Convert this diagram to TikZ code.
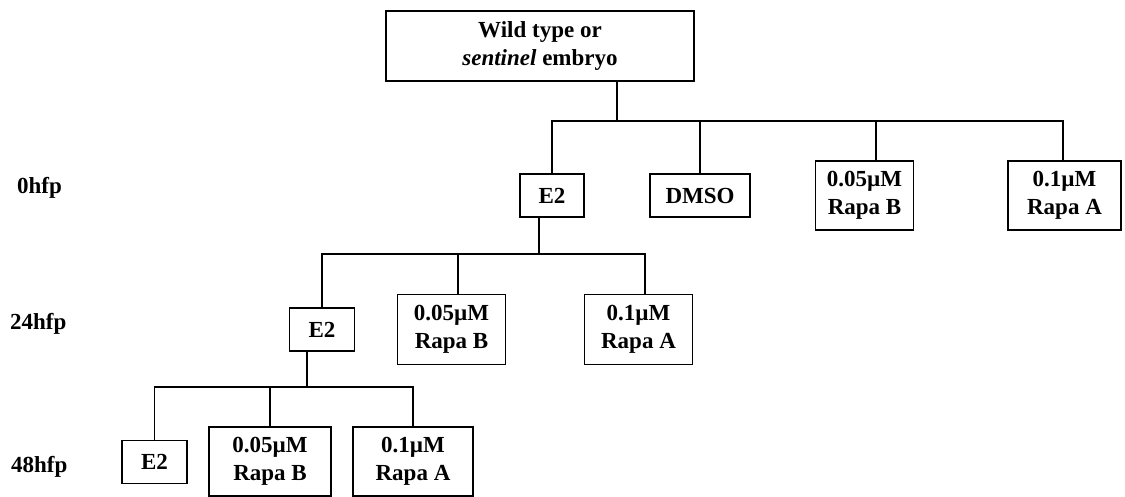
\documentclass[tikz,border=0pt]{standalone}
\usepackage{fontspec}
\setmainfont{Liberation Serif}
\begin{document}
\begin{tikzpicture}[x=1pt,y=-1pt,
  box/.style={draw,line width=1.5pt,inner sep=0pt,align=center,font=\fontsize{23}{28}\selectfont\bfseries},
  lbl/.style={anchor=base west,inner sep=0pt,font=\fontsize{23}{28}\selectfont\bfseries},
  link/.style={line width=1.5pt}]
\useasboundingbox (0,0) rectangle (1125,497);
% nodes
\node[box,minimum width=308pt,minimum height=70pt] (top) at (540,46) {Wild type or\\\textit{sentinel} embryo};
\node[box,minimum width=64pt,minimum height=43pt] (E2a) at (552,195.5) {E2};
\node[box,minimum width=100pt,minimum height=43pt] (DMSO) at (700,195.5) {DMSO};
\node[box,minimum width=98pt,minimum height=69pt] (RBa) at (864.5,195.5) {0.05µM\\Rapa B};
\node[box,minimum width=113pt,minimum height=69pt] (RAa) at (1064.5,195.5) {0.1µM\\Rapa A};
\node[box,minimum width=65pt,minimum height=43pt] (E2b) at (322,329.5) {E2};
\node[box,minimum width=108pt,minimum height=70pt] (RBb) at (451.5,329.5) {0.05µM\\Rapa B};
\node[box,minimum width=108pt,minimum height=70pt] (RAb) at (638.5,329.5) {0.1µM\\Rapa A};
\node[box,minimum width=65pt,minimum height=43pt] (E2c) at (154.5,462) {E2};
\node[box,minimum width=122pt,minimum height=69pt] (RBc) at (270,461.5) {0.05µM\\Rapa B};
\node[box,minimum width=120pt,minimum height=69pt] (RAc) at (413,461.5) {0.1µM\\Rapa A};
% time labels
\node[lbl] (t0) at (17,194) {0hfp};
\node[lbl] (t24) at (10,330) {24hfp};
\node[lbl] (t48) at (11,472) {48hfp};
% junctions
\coordinate (j1) at (617,121);
\coordinate (j2) at (539,254);
\coordinate (j3) at (307,387);
% level 1
\draw[link] (top.south -| j1) -- (j1);
\draw[link] (E2a.north) -- (E2a.north |- j1) -- ([xshift=-1.5pt]RAa.north |- j1) -- ([xshift=-1.5pt]RAa.north);
\draw[link] (DMSO.north) -- (DMSO.north |- j1);
\draw[link] ([xshift=11.5pt]RBa.north) -- ([xshift=11.5pt]RBa.north |- j1);
% level 2
\draw[link] (E2a.south -| j2) -- (j2);
\draw[link] (E2b.north) -- (E2b.north |- j2) -- ([xshift=6.5pt]RAb.north |- j2) -- ([xshift=6.5pt]RAb.north);
\draw[link] ([xshift=6.5pt]RBb.north) -- ([xshift=6.5pt]RBb.north |- j2);
% level 3
\draw[link] (E2b.south -| j3) -- (j3);
\draw[link] (E2c.north) -- (E2c.north |- j3) -- (RAc.north |- j3) -- (RAc.north);
\draw[link] (RBc.north) -- (RBc.north |- j3);
\end{tikzpicture}
\end{document}
